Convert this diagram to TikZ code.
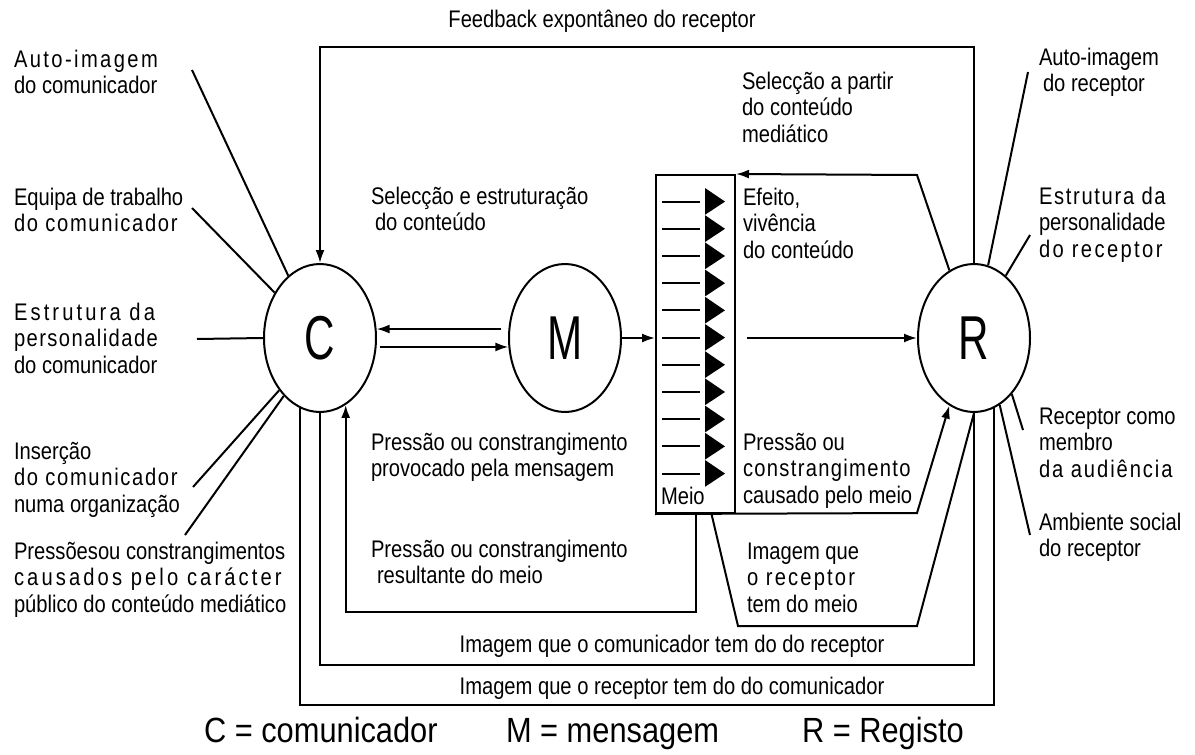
\documentclass[tikz,border=0pt]{standalone}
\usepackage{fontspec}
\setmainfont{Liberation Sans}[FakeStretch=0.84]
\newfontfamily\bigfont{Liberation Sans}[FakeStretch=0.68]
\newfontfamily\legfont{Liberation Sans}[FakeStretch=0.88]
\newcommand{\lsp}[2]{{\addfontfeature{LetterSpace=#1}#2}}
\usetikzlibrary{positioning}
\usetikzlibrary{arrows.meta}
\usetikzlibrary{shapes.geometric}

\begin{document}
\begin{tikzpicture}[x=0.5pt,y=-0.5pt,line width=1pt,>={Latex[length=6.5pt,width=4.5pt]},
                main node/.style={ellipse,draw,minimum width=56pt,minimum height=74pt,inner sep=0pt,
                  font=\bigfont\fontsize{31}{31}\selectfont},
                txt/.style={align=left,inner sep=0pt,anchor=base west,font=\fontsize{12}{13.35}\selectfont},
                ctxt/.style={inner sep=0pt,anchor=base,font=\fontsize{12}{13.35}\selectfont},
                leg/.style={inner sep=0pt,anchor=base west,font=\legfont\fontsize{17.5}{20}\selectfont}]

  \useasboundingbox (0,0) rectangle (1195,755);

  % the three circles and the medium
  \node[main node] (C) at (320,338) {C};
  \node[main node] (M) [right=65.5pt of C] {M};
  \node[draw,minimum width=39.5pt,minimum height=169pt,inner sep=0pt,yshift=-3pt] (meio) [right=16.5pt of M] {};
  \node[main node] (R) [right=90.5pt of meio,yshift=3pt] {R};

  \foreach \i in {0,...,10} {
    \fill (705,188+27.2*\i) -- (725,201.6+27.2*\i) -- (705,214.8+27.2*\i) -- cycle;
    \draw (662,201.6+27.2*\i) -- (700,201.6+27.2*\i);
  }
  \node[txt] (meiolbl) at (660,504) {Meio};

  % free ends of the radial lines
  \coordinate (c1) at (192,70);
  \coordinate (c2) at (192,208);
  \coordinate (c3) at (197,339);
  \coordinate (c4) at (193,487);
  \coordinate (c5) at (185,535);
  \coordinate (r1) at (1028,72);
  \coordinate (r2) at (1030,235);
  \coordinate (r3) at (1023,430);
  \coordinate (r4) at (1030,535);

  \draw (c1) -- (C.117);
  \draw (c2) -- (C.135);
  \draw (c3) -- (C.180);
  \draw (c4) -- (C.232);
  \draw (c5) -- (C.238);
  \draw (r1) -- (R.79);
  \draw (r2) -- (R.63);
  \draw (r3) -- (R.-56);
  \draw (r4) -- (R.-69);

  % connectors
  \draw[->] (R.north) -- (R.north |- 0,47) -| (C.north);
  \draw[->,shorten <=3.5pt] (M.171) -- (C.9);
  \draw[->,shorten <=1.5pt] (C.-9) -- (M.189);
  \draw[->] (M.east) -- (M.east -| meio.west);
  \draw[->,shorten <=5.5pt] (meio.east |- R.west) -- (R.west);
  \draw[->] (R.110) -- (917,175) -- (meio.north east);
  \draw[->] (meio.south west) -- (917,513) -- (R.250);
  \draw ([xshift=8pt]meio.south) -- (738,626) -- (917,626) -- (R.south);
  \draw[->] (meio.south) -- (meio.south |- 0,612) -| (C.-69);
  \draw (C.south) -- (C.south |- 0,665) -| (R.south);
  \draw (C.-106) -- (C.-106 |- 0,705) -| (R.-74);

  % texts
  \node[ctxt] (fbk) at (602,27) {Feedback expontâneo do receptor};
  \node[txt] (autoC) at (13,93.7) {\lsp{10}{Auto-imagem}\\do comunicador};
  \node[txt] (equipa) at (13,231.7) {Equipa de trabalho\\\lsp{7}{do comunicador}};
  \node[txt] (estrC) at (13,373.4) {\lsp{13}{Estrutura da}\\\lsp{6}{personalidade}\\do comunicador};
  \node[txt] (insercao) at (13,512.4) {Inserção\\\lsp{7}{do comunicador}\\numa organização};
  \node[txt] (pressoes) at (13,612.4) {Pressõesou constrangimentos\\\lsp{13}{causados pelo carácter}\\público do conteúdo mediático};
  \node[txt] (autoR) at (1038,91.7) {Auto-imagem\\\hspace*{2pt}do receptor};
  \node[txt] (estrR) at (1038,257.4) {\lsp{7}{Estrutura da}\\personalidade\\\lsp{10}{do receptor}};
  \node[txt] (membro) at (1038,477.4) {Receptor como\\membro\\\lsp{8}{da audiência}};
  \node[txt] (ambiente) at (1038,556.7) {Ambiente social\\do receptor};
  \node[txt] (selpartir) at (741,142.4) {Selecção a partir\\do conteúdo\\mediático};
  \node[txt] (selestr) at (370,230.7) {Selecção e estruturação\\\hspace*{2pt}do conteúdo};
  \node[txt] (efeito) at (742,258.4) {Efeito,\\vivência\\do conteúdo};
  \node[txt] (pmens) at (370,476.7) {Pressão ou constrangimento\\provocado pela mensagem};
  \node[txt] (pcaus) at (742,503.4) {Pressão ou\\\lsp{5.5}{constrangimento}\\causado pelo meio};
  \node[txt] (presult) at (370,583.7) {Pressão ou constrangimento\\\hspace*{3pt}resultante do meio};
  \node[txt] (imgmeio) at (746,612.4) {Imagem que\\\lsp{9}{o receptor}\\tem do meio};
  \node[ctxt] (imgcom) at (672,652) {Imagem que o comunicador tem do do receptor};
  \node[ctxt] (imgrec) at (672,694) {Imagem que o receptor tem do do comunicador};

  % legend
  \node[leg] (legC) at (203,742) {C = comunicador};
  \node[leg] (legM) at (505,742) {M = mensagem};
  \node[leg] (legR) at (801,742) {R = Registo};

\end{tikzpicture}
\end{document}
